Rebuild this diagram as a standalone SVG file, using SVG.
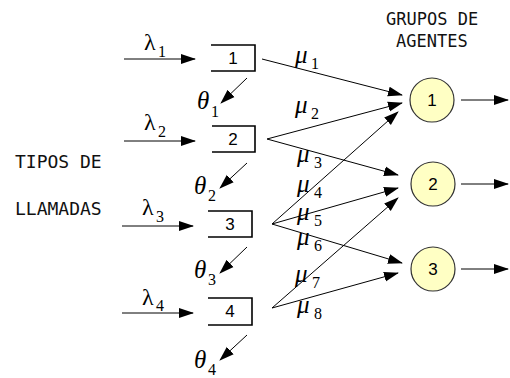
<svg xmlns="http://www.w3.org/2000/svg" width="510" height="378" viewBox="0 0 510 378">
<style>
.ln{stroke:#000;stroke-width:1;fill:none}
.q{stroke:#000;stroke-width:1.6;fill:none}
.c{fill:#ffffc4;stroke:#333;stroke-width:1.2}
.mono{font-family:"DejaVu Sans Mono",monospace;font-size:17px;fill:#111}
.big{font-size:18px}
.num{font-family:"Liberation Sans",Arial,sans-serif;font-size:17px;fill:#000;text-anchor:middle}
.gr{font-family:"Liberation Serif","Times New Roman",serif;font-size:25px;font-style:italic;fill:#000}
.lam{font-family:"Liberation Serif","Times New Roman",serif;font-size:24px;fill:#000}
.sub{font-family:"Liberation Serif","Times New Roman",serif;font-size:16px;fill:#000}
</style>
<defs>
<marker id="ah" markerUnits="userSpaceOnUse" markerWidth="16" markerHeight="12" refX="14" refY="5" orient="auto" viewBox="0 0 16 10">
<path d="M0,0 L15,5 L0,10 Z" fill="#000"/>
</marker>
</defs>
<g id="labels">
<text class="mono big" x="15" y="168">TIPOS DE</text>
<text class="mono big" x="15" y="215">LLAMADAS</text>
<text class="mono" x="386" y="25">GRUPOS DE</text>
<text class="mono" x="396" y="47">AGENTES</text>
</g>
<g id="connectors">
<line class="ln" x1="124" y1="59" x2="195" y2="59" marker-end="url(#ah)"/>
<line class="ln" x1="124" y1="141" x2="195" y2="141" marker-end="url(#ah)"/>
<line class="ln" x1="122" y1="226" x2="193" y2="226" marker-end="url(#ah)"/>
<line class="ln" x1="122" y1="313" x2="193" y2="313" marker-end="url(#ah)"/>
<line class="ln" x1="247" y1="78" x2="221" y2="103" marker-end="url(#ah)"/>
<line class="ln" x1="247" y1="163" x2="220" y2="188" marker-end="url(#ah)"/>
<line class="ln" x1="247" y1="247" x2="220" y2="273" marker-end="url(#ah)"/>
<line class="ln" x1="247" y1="335" x2="220" y2="360" marker-end="url(#ah)"/>
<line class="ln" x1="262" y1="59" x2="402" y2="95" marker-end="url(#ah)"/>
<line class="ln" x1="267" y1="139" x2="402" y2="103" marker-end="url(#ah)"/>
<line class="ln" x1="267" y1="139" x2="398" y2="175" marker-end="url(#ah)"/>
<line class="ln" x1="272" y1="224" x2="398" y2="112" marker-end="url(#ah)"/>
<line class="ln" x1="272" y1="224" x2="398" y2="188" marker-end="url(#ah)"/>
<line class="ln" x1="272" y1="224" x2="402" y2="263" marker-end="url(#ah)"/>
<line class="ln" x1="272" y1="308" x2="398" y2="198" marker-end="url(#ah)"/>
<line class="ln" x1="272" y1="308" x2="398" y2="273" marker-end="url(#ah)"/>
<line class="ln" x1="461" y1="100" x2="508" y2="100" marker-end="url(#ah)"/>
<line class="ln" x1="461" y1="184" x2="508" y2="184" marker-end="url(#ah)"/>
<line class="ln" x1="461" y1="269" x2="508" y2="269" marker-end="url(#ah)"/>
</g>
<g id="rates">
<text class="lam" x="144" y="50">λ</text><text class="sub" x="158" y="57">1</text>
<text class="lam" x="144" y="130">λ</text><text class="sub" x="158" y="137">2</text>
<text class="lam" x="142" y="215">λ</text><text class="sub" x="156" y="222">3</text>
<text class="lam" x="142" y="305">λ</text><text class="sub" x="156" y="311">4</text>
<text class="gr" x="197" y="109">θ</text><text class="sub" x="211" y="117">1</text>
<text class="gr" x="194" y="194">θ</text><text class="sub" x="208" y="201">2</text>
<text class="gr" x="194" y="278">θ</text><text class="sub" x="208" y="285">3</text>
<text class="gr" x="194" y="368">θ</text><text class="sub" x="208" y="375">4</text>
<text class="gr" x="295" y="63">μ</text><text class="sub" x="311" y="69">1</text>
<text class="gr" x="295" y="113">μ</text><text class="sub" x="311" y="119">2</text>
<text class="gr" x="297" y="162">μ</text><text class="sub" x="314" y="168">3</text>
<text class="gr" x="297" y="192">μ</text><text class="sub" x="314" y="198">4</text>
<text class="gr" x="297" y="220">μ</text><text class="sub" x="314" y="226">5</text>
<text class="gr" x="297" y="245">μ</text><text class="sub" x="314" y="251">6</text>
<text class="gr" x="295" y="282">μ</text><text class="sub" x="312" y="288">7</text>
<text class="gr" x="297" y="313">μ</text><text class="sub" x="314" y="319">8</text>
</g>
<g id="queue1"><path class="q" d="M211,45 H255 V71 H211"/><text class="num" x="233" y="64">1</text></g>
<g id="queue2"><path class="q" d="M212,126 H255 V152 H212"/><text class="num" x="233" y="145">2</text></g>
<g id="queue3"><path class="q" d="M208,211 H252 V237 H208"/><text class="num" x="230" y="230">3</text></g>
<g id="queue4"><path class="q" d="M208,298 H252 V325 H208"/><text class="num" x="230" y="317">4</text></g>
<g id="group1"><circle class="c" cx="432" cy="100" r="22"/><text class="num" x="432" y="106">1</text></g>
<g id="group2"><circle class="c" cx="433" cy="184" r="22"/><text class="num" x="433" y="190">2</text></g>
<g id="group3"><circle class="c" cx="433" cy="269" r="22"/><text class="num" x="433" y="275">3</text></g>
</svg>
